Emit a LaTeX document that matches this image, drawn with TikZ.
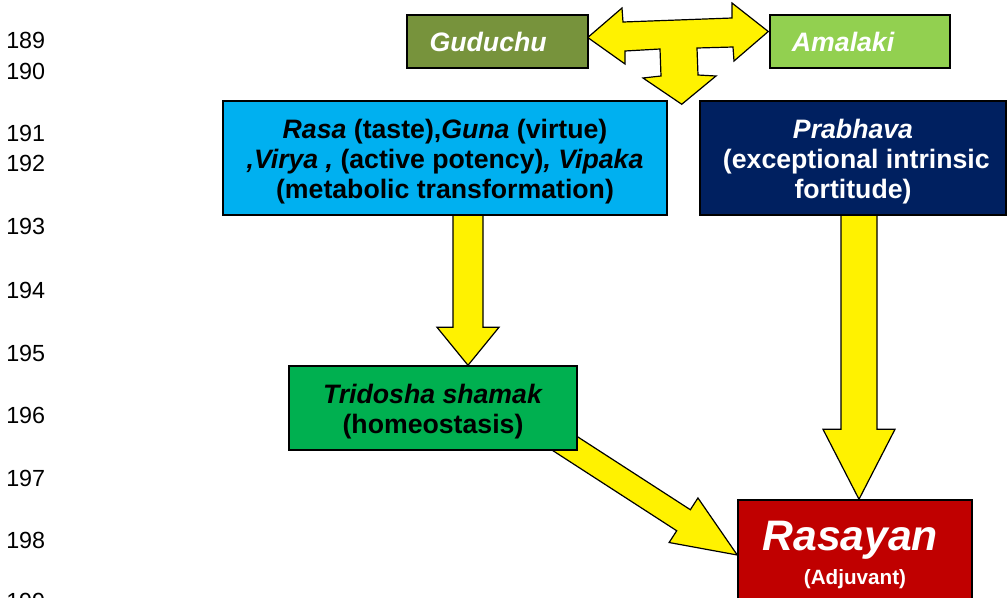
\documentclass[tikz,border=0pt]{standalone}
\usepackage{fontspec}
\setmainfont{Liberation Sans}
\usetikzlibrary{calc,backgrounds}

\definecolor{herbdark}{HTML}{77933C}
\definecolor{herblight}{HTML}{92D050}
\definecolor{rasablue}{HTML}{00B0F0}
\definecolor{prabnavy}{HTML}{002060}
\definecolor{tridgreen}{HTML}{00B050}
\definecolor{rasared}{HTML}{C00000}

\newcommand\topgap{\rule{0pt}{20.5pt}}

% block arrow: start, tip, half shaft, half head, head length
\newcommand\fatarrow[5]{%
  \draw[fat] ($(#1)!#3!90:(#2)$) -- ($(#2)!#5!(#1)!#3!-90:(#1)$)
    -- ($(#2)!#5!(#1)!#4!-90:(#1)$) -- (#2)
    -- ($(#2)!#5!(#1)!#4!90:(#1)$) -- ($(#2)!#5!(#1)!#3!90:(#1)$)
    -- ($(#1)!#3!-90:(#2)$) -- cycle;}

\begin{document}
\begin{tikzpicture}[x=0.75pt, y=-0.75pt,
    box/.style={draw, line width=1.1pt, align=center, inner sep=2pt,
      font=\fontsize{20}{22.5}\selectfont\bfseries},
    fat/.style={draw, fill=yellow, line width=0.9pt, line join=miter},
    lineno/.style={anchor=west, inner sep=0pt, font=\fontsize{17.5}{20}\selectfont}]

  \useasboundingbox (0,0) rectangle (1008,597);
  \clip (0,0) rectangle (1008,597);

  % line numbers
  \foreach \n/\y in {189/40, 190/71, 191/133, 192/163, 193/226, 194/290,
      195/353, 196/415, 197/478, 198/540, 199/601}
    \node[lineno] (ln\n) at (6,\y) {\n};

  % herbs
  \node[box, fill=herbdark, text=white, minimum width=135.75pt, minimum height=39.75pt]
    (guduchu) at (497.5,41.5) {\textit{Guduchu}\kern14pt};
  \node[box, fill=herblight, text=white, minimum width=135pt, minimum height=39.75pt]
    (amalaki) at (860,41.5) {\textit{Amalaki}\kern25pt};

  % properties
  \node[box, fill=rasablue, minimum width=333pt, minimum height=85.5pt] (rasa) at (445,158)
    {\topgap\textit{Rasa} (taste),\textit{Guna} (virtue)\\
     \textit{,Virya ,} (active potency)\textit{, Vipaka}\\
     (metabolic transformation)};
  \node[box, fill=prabnavy, text=white, minimum width=229.5pt, minimum height=85.5pt]
    (prabhava) at (853,158)
    {\topgap\textit{Prabhava}\\\kern5pt(exceptional intrinsic\\fortitude)};

  % homeostasis
  \node[box, fill=tridgreen, minimum width=216pt, minimum height=63pt] (tridosha) at (433,408)
    {\topgap\textit{Tridosha shamak}\\(homeostasis)};

  % result
  \node[box, fill=rasared, text=white, minimum width=175.5pt, minimum height=82.5pt]
    (rasayan) at (855,555)
    {{\fontsize{32}{34}\selectfont\textit{Rasayan}\kern7pt}\\[3pt]
     {\fontsize{15.5}{17}\selectfont (Adjuvant)}};

  \begin{scope}[on background layer]
    % herbs combine
    \coordinate (tl) at ($(guduchu.east)+(-1,-4)$);
    \coordinate (tr) at ($(amalaki.west)+(-1,-10)$);
    \coordinate (td) at ($(rasa.north east)+(14,4)$);
    \draw[fat] (tl) -- (622,8) -- (623,22) -- (732,18) -- (732,3) -- (tr)
      -- (734,61) -- (733,47) -- (697,48) -- (698,75) -- (716,76) -- (td)
      -- (643,78) -- (661,76) -- (660,49) -- (625,51) -- (625,64) -- cycle;

    % properties to homeostasis
    \coordinate (a1s) at ($(rasa.south)+(23,-2)$);
    \coordinate (a1t) at (a1s |- tridosha.north);
    \fatarrow{a1s}{a1t}{11.25pt}{23.25pt}{28.5pt}

    % prabhava to rasayan
    \coordinate (a2s) at ($(prabhava.south)+(6,-2)$);
    \coordinate (a2t) at (a2s |- rasayan.north);
    \fatarrow{a2s}{a2t}{13.5pt}{27pt}{52.5pt}

    % homeostasis to rasayan
    \coordinate (a3s) at ($(tridosha.south east)+(-31,-19)$);
    \fatarrow{a3s}{rasayan.west}{9.4pt}{19.9pt}{48pt}
  \end{scope}

\end{tikzpicture}
\end{document}
